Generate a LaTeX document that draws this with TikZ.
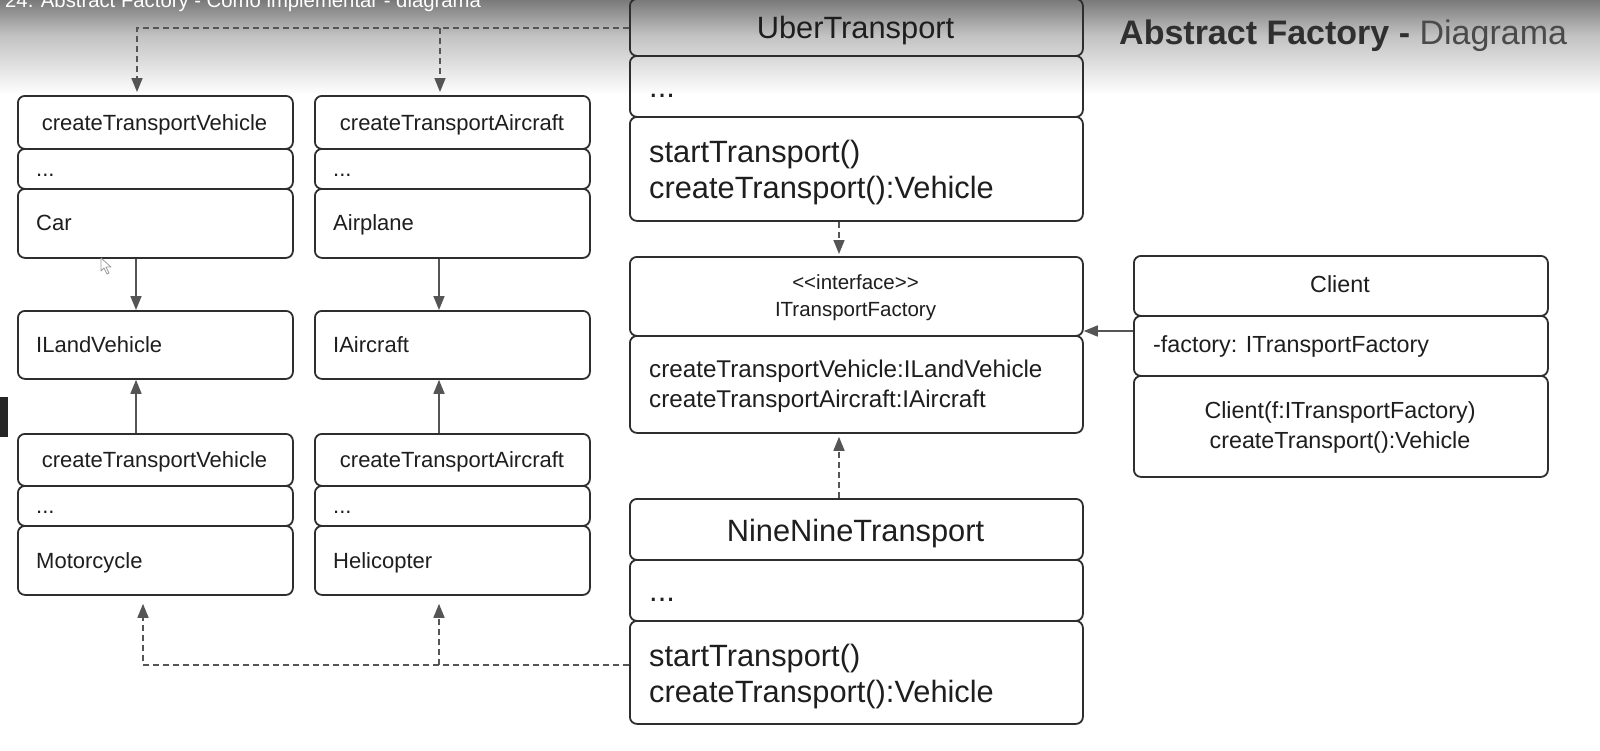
\documentclass[tikz,border=0pt]{standalone}
\usepackage{fontspec}
\setmainfont{Liberation Sans}
\usetikzlibrary{arrows.meta}
\definecolor{boxc}{HTML}{2E2E2E}
\definecolor{arrc}{HTML}{555555}
\definecolor{txt}{HTML}{1E1E1E}
\definecolor{ttl}{HTML}{2F2F2F}
\definecolor{ttlb}{HTML}{4A4A4A}
\begin{document}
\begin{tikzpicture}[x=1pt,y=-1pt,
  comp/.style={draw=boxc, line width=1.8pt, rounded corners=7pt, inner sep=0pt, anchor=north west},
  tx/.style={inner sep=0pt, text=txt},
  fa/.style={tx, font=\fontsize{22}{26}\selectfont},
  fb/.style={tx, font=\fontsize{30.8}{36}\selectfont},
  fc/.style={tx, font=\fontsize{24.2}{28}\selectfont},
  fd/.style={tx, font=\fontsize{20.5}{24}\selectfont},
  fe/.style={tx, font=\fontsize{23.3}{28}\selectfont},
  solidarr/.style={draw=arrc, line width=1.6pt, -{Triangle[length=14pt,width=11pt]}},
  dasharr/.style={solidarr, dash pattern=on 6pt off 4pt},
]
\useasboundingbox (0,0) rectangle (1600,750);
\fill[white] (0,0) rectangle (1600,750);
% header gradient
\shade[top color={rgb,255:red,122;green,122;blue,122}, bottom color={rgb,255:red,195;green,195;blue,195}] (0,0) rectangle (1600,36);
\shade[top color={rgb,255:red,195;green,195;blue,195}, bottom color=white] (0,36) rectangle (1600,95);

% ---- left column
\node[comp, minimum width=275pt, minimum height=53pt] (vA1) at (17,95) {};
\node[comp, minimum width=275pt, minimum height=40pt] (vA2) at (17,148) {};
\node[comp, minimum width=275pt, minimum height=69pt] (vA3) at (17,188) {};
\node[fa, anchor=base] (vA1t) at (154.5,130) {createTransportVehicle};
\node[fa, anchor=base west] (vA2t) at (36,176) {...};
\node[fa, anchor=base west] (vA3t) at (36,230) {Car};

\node[comp, minimum width=275pt, minimum height=53pt] (aB1) at (314,95) {};
\node[comp, minimum width=275pt, minimum height=40pt] (aB2) at (314,148) {};
\node[comp, minimum width=275pt, minimum height=69pt] (aB3) at (314,188) {};
\node[fa, anchor=base] (aB1t) at (452,130) {createTransportAircraft};
\node[fa, anchor=base west] (aB2t) at (333,176) {...};
\node[fa, anchor=base west] (aB3t) at (333,230) {Airplane};

\node[comp, minimum width=275pt, minimum height=68pt] (iLV) at (17,310) {};
\node[fa, anchor=base west] (iLVt) at (36,352) {ILandVehicle};
\node[comp, minimum width=275pt, minimum height=68pt] (iAC) at (314,310) {};
\node[fa, anchor=base west] (iACt) at (333,352) {IAircraft};

\node[comp, minimum width=275pt, minimum height=52pt] (vC1) at (17,433) {};
\node[comp, minimum width=275pt, minimum height=40pt] (vC2) at (17,485) {};
\node[comp, minimum width=275pt, minimum height=69pt] (vC3) at (17,525) {};
\node[fa, anchor=base] (vC1t) at (154.5,467) {createTransportVehicle};
\node[fa, anchor=base west] (vC2t) at (36,513) {...};
\node[fa, anchor=base west] (vC3t) at (36,568) {Motorcycle};

\node[comp, minimum width=275pt, minimum height=52pt] (aD1) at (314,433) {};
\node[comp, minimum width=275pt, minimum height=40pt] (aD2) at (314,485) {};
\node[comp, minimum width=275pt, minimum height=69pt] (aD3) at (314,525) {};
\node[fa, anchor=base] (aD1t) at (452,467) {createTransportAircraft};
\node[fa, anchor=base west] (aD2t) at (333,513) {...};
\node[fa, anchor=base west] (aD3t) at (333,568) {Helicopter};

% ---- UberTransport
\node[comp, minimum width=453pt, minimum height=57pt] (U1) at (629,-2) {};
\node[comp, minimum width=453pt, minimum height=61pt] (U2) at (629,55) {};
\node[comp, minimum width=453pt, minimum height=104pt] (U3) at (629,116) {};
\node[fb, anchor=base] (U1t) at (855.5,38) {UberTransport};
\node[fb, anchor=base west] (U2t) at (649,97) {...};
\node[fb, anchor=base west] (U3a) at (649,162) {startTransport()};
\node[fb, anchor=base west] (U3b) at (649,198) {createTransport():Vehicle};

% ---- interface
\node[comp, minimum width=453pt, minimum height=79pt] (I1) at (629,256) {};
\node[comp, minimum width=453pt, minimum height=97pt] (I2) at (629,335) {};
\node[fd, anchor=base] (I1a) at (855.5,289) {<{}<interface>{}>};
\node[fd, anchor=base] (I1b) at (855.5,316) {ITransportFactory};
\node[fc, anchor=base west] (I2a) at (649,377) {createTransportVehicle:ILandVehicle};
\node[fc, anchor=base west] (I2b) at (649,407) {createTransportAircraft:IAircraft};

% ---- NineNineTransport
\node[comp, minimum width=453pt, minimum height=61pt] (N1) at (629,498) {};
\node[comp, minimum width=453pt, minimum height=61pt] (N2) at (629,559) {};
\node[comp, minimum width=453pt, minimum height=103pt] (N3) at (629,620) {};
\node[fb, anchor=base] (N1t) at (855.5,541) {NineNineTransport};
\node[fb, anchor=base west] (N2t) at (649,601) {...};
\node[fb, anchor=base west] (N3a) at (649,666) {startTransport()};
\node[fb, anchor=base west] (N3b) at (649,702) {createTransport():Vehicle};

% ---- Client
\node[comp, minimum width=414pt, minimum height=60pt] (C1) at (1133,255) {};
\node[comp, minimum width=414pt, minimum height=60pt] (C2) at (1133,315) {};
\node[comp, minimum width=414pt, minimum height=101pt] (C3) at (1133,375) {};
\node[fe, anchor=base] (C1t) at (1340,292) {Client};
\node[fe, anchor=base west] (C2t) at (1153,352) {-factory: ITransportFactory};
\node[fe, anchor=base] (C3a) at (1340,418) {Client(f:ITransportFactory)};
\node[fe, anchor=base] (C3b) at (1340,448) {createTransport():Vehicle};

% ---- connectors
\coordinate (jt) at (440,28);
\coordinate (jb) at (439,665);
\coordinate (cj) at (1133,331);
\draw[dasharr, shorten >=3pt] (U1.west |- jt) -| ([xshift=120pt]vA1.north west);
\draw[dasharr, shorten >=3pt] (jt) -- ([xshift=126pt]aB1.north west);
\draw[dasharr, shorten >=8pt] (N3.west |- jb) -| ([xshift=126pt]vC3.south west);
\draw[dasharr, shorten >=8pt] (jb) -- ([xshift=125pt]aD3.south west);
\draw[solidarr] ([xshift=119pt]vA3.south west) -- ([xshift=119pt]iLV.north west);
\draw[solidarr] ([xshift=125pt]aB3.south west) -- ([xshift=125pt]iAC.north west);
\draw[solidarr] ([xshift=119pt]vC1.north west) -- ([xshift=119pt]iLV.south west);
\draw[solidarr] ([xshift=125pt]aD1.north west) -- ([xshift=125pt]iAC.south west);
\draw[dasharr, shorten >=2pt] ([xshift=210pt]U3.south west) -- ([xshift=210pt]I1.north west);
\draw[dasharr, shorten >=3pt] ([xshift=210pt]N1.north west) -- ([xshift=210pt]I2.south west);
\draw[solidarr] (cj) -- (cj -| I1.east);

% ---- titles and overlay bits
\node[inner sep=0pt, anchor=base west, text=ttl, font=\fontsize{34}{40}\selectfont] (title) at (1119,44) {\textbf{Abstract Factory -} {\color{ttlb}Diagrama}};
\node[inner sep=0pt, anchor=base west, text=white, font=\fontsize{20.3}{24}\selectfont] (vtitle) at (5,7) {24. Abstract Factory - Como implementar - diagrama};
\fill[black!85] (0,397) rectangle (8,437);
\draw[gray!80, fill=white, line width=0.8pt, line join=round] (101,258) -- (101,271) -- (104,268) -- (107,274) -- (109,273) -- (106,267) -- (111,267) -- cycle;
\end{tikzpicture}
\end{document}
